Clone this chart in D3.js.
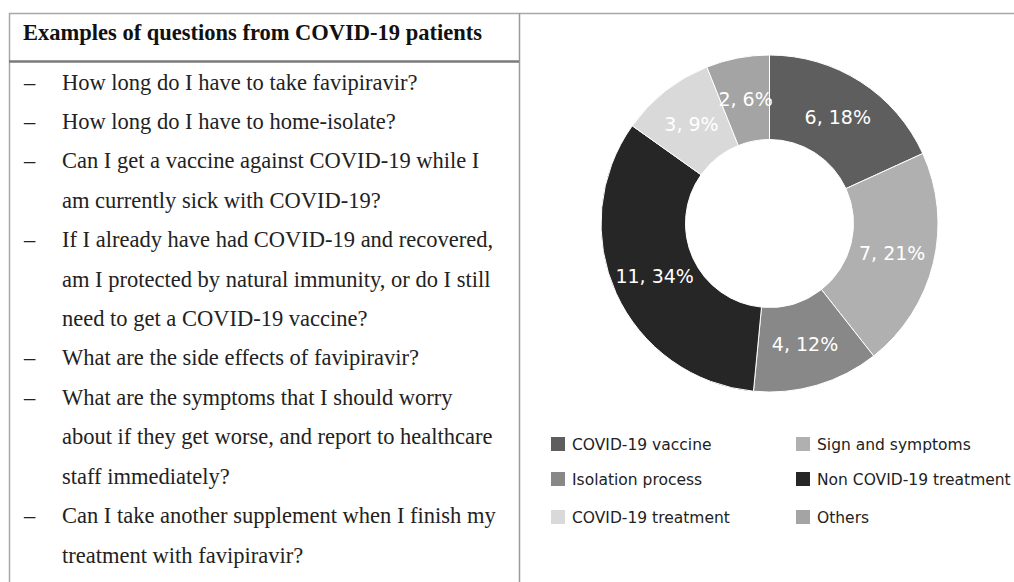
<!DOCTYPE html>
<html><head><meta charset="utf-8">
<script src="https://cdn.jsdelivr.net/npm/d3@7"></script>
<style>html,body{margin:0;padding:0;background:#fff;}svg{display:block;}</style>
</head><body>
<svg id="c" width="1014" height="582"></svg>
<script>
const categories = ["COVID-19 vaccine","Sign and symptoms","Isolation process","Non COVID-19 treatment","COVID-19 treatment","Others"];
const counts = [6,7,4,11,3,2];
const percentLabels = ["18%","21%","12%","34%","9%","6%"];
const colors = ["#5e5e5e","#b0b0b0","#888888","#262626","#d9d9d9","#a4a4a4"];
const legendOrder = ["COVID-19 vaccine","Sign and symptoms","Isolation process","Non COVID-19 treatment","COVID-19 treatment","Others"];
const tableTitle = "Examples of questions from COVID-19 patients";
const questionLines = [
  {dash:true, text:"How long do I have to take favipiravir?"},
  {dash:true, text:"How long do I have to home-isolate?"},
  {dash:true, text:"Can I get a vaccine against COVID-19 while I"},
  {dash:false, text:"am currently sick with COVID-19?"},
  {dash:true, text:"If I already have had COVID-19 and recovered,"},
  {dash:false, text:"am I protected by natural immunity, or do I still"},
  {dash:false, text:"need to get a COVID-19 vaccine?"},
  {dash:true, text:"What are the side effects of favipiravir?"},
  {dash:true, text:"What are the symptoms that I should worry"},
  {dash:false, text:"about if they get worse, and report to healthcare"},
  {dash:false, text:"staff immediately?"},
  {dash:true, text:"Can I take another supplement when I finish my"},
  {dash:false, text:"treatment with favipiravir?"}
];

const svg = d3.select("#c");

// table frame
const g = svg.append("g");
g.append("line").attr("x1",9).attr("x2",1014).attr("y1",13.5).attr("y2",13.5).attr("stroke","#a8a8a8").attr("stroke-width",1.5);
g.append("line").attr("x1",9.5).attr("x2",9.5).attr("y1",13).attr("y2",582).attr("stroke","#a8a8a8").attr("stroke-width",1.5);
g.append("line").attr("x1",519.5).attr("x2",519.5).attr("y1",13).attr("y2",582).attr("stroke","#9a9a9a").attr("stroke-width",1.5);
g.append("line").attr("x1",9).attr("x2",519).attr("y1",61.5).attr("y2",61.5).attr("stroke","#7a7a7a").attr("stroke-width",2.5);

g.append("text").attr("x",23).attr("y",39.5)
  .attr("font-family","'Liberation Serif','Times New Roman',serif").attr("font-weight","bold")
  .attr("font-size",22.5).attr("fill","#111").text(tableTitle);

const yLine = d3.scaleLinear().domain([0, questionLines.length-1]).range([89.5, 562.5]);
const rows = g.selectAll("g.q").data(questionLines).join("g").attr("class","q")
  .attr("transform",(d,i)=>`translate(0,${yLine(i)})`);
rows.filter(d=>d.dash).append("text").attr("x",24).attr("y",0)
  .attr("font-family","'Liberation Serif','Times New Roman',serif").attr("font-size",22.5).attr("fill","#222").text("\u2013");
rows.append("text").attr("x",62).attr("y",0)
  .attr("font-family","'Liberation Serif','Times New Roman',serif").attr("font-size",22.5).attr("fill","#222").text(d=>d.text);

// donut
const cx = 769.5, cy = 223.5, rOut = 168.5, rIn = 84;
const data = categories.map((c,i)=>({cat:c, value:counts[i], pct:percentLabels[i], color:colors[i]}));
const pie = d3.pie().value(d=>d.value).sort(null);
const arc = d3.arc().innerRadius(rIn).outerRadius(rOut);
const dg = svg.append("g").attr("transform",`translate(${cx},${cy})`);
const arcs = pie(data);
dg.selectAll("path").data(arcs).join("path").attr("d",arc).attr("fill",d=>d.data.color)
  .attr("stroke","#fff").attr("stroke-width",1);
dg.selectAll("text").data(arcs).join("text")
  .attr("transform",d=>`translate(${arc.centroid(d)})`)
  .attr("text-anchor","middle").attr("dy","0.36em")
  .attr("font-family","'DejaVu Sans',sans-serif").attr("font-size",19).attr("fill","#fff")
  .text(d=>`${d.data.value}, ${d.data.pct}`);

// legend
const colX = d3.scaleOrdinal().domain([0,1]).range([551,796]);
const rowY = d3.scaleOrdinal().domain([0,1,2]).range([444,479,517]);
const lg = svg.append("g");
const items = lg.selectAll("g").data(legendOrder).join("g")
  .attr("transform",(d,i)=>`translate(${colX(i%2)},${rowY(Math.floor(i/2))})`);
items.append("rect").attr("x",0).attr("y",-7).attr("width",14).attr("height",14)
  .attr("fill",d=>colors[categories.indexOf(d)]);
items.append("text").attr("x",21).attr("y",0).attr("dy","0.36em")
  .attr("font-family","'DejaVu Sans',sans-serif").attr("font-size",15.5).attr("fill","#222").text(d=>d);
</script>
</body></html>
